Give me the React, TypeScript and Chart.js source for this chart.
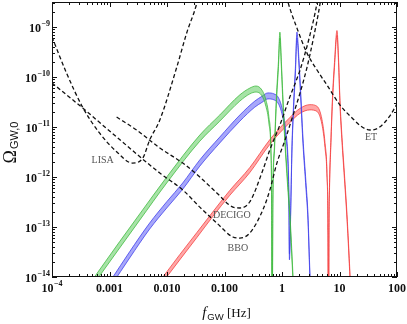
import React, { useEffect, useRef } from 'react';
import { Chart, registerables } from 'chart.js';

Chart.register(...registerables);

// ---------------- data ----------------
const X_MIN = 1e-4;
const X_MAX = 100;
const Y_MIN = 1e-14;
const Y_MAX = 3.162e-9;

const xTickValues = [1e-4, 1e-3, 0.01, 0.1, 1, 10, 100];
const xTickLabels = ['10^\u22124', '0.001', '0.010', '0.100', '1', '10', '100'];
const yTickValues = [1e-14, 1e-13, 1e-12, 1e-11, 1e-10, 1e-9];
const yTickLabels = ['10^\u221214', '10^\u221213', '10^\u221212', '10^\u221211', '10^\u221210', '10^\u22129'];

// sensitivity curves (dashed)
const lisaF = [1e-4, 1.79e-4, 3.4e-4, 6.7e-4, 1.33e-3, 2.5e-3, 3.8e-3, 5.0e-3, 7.5e-3, 0.0148, 0.022, 0.033, 0.037];
const lisaOmega = [6.3e-10, 1.2e-10, 2.5e-11, 7.6e-12, 3.2e-12, 1.9e-12, 2.4e-12, 5.5e-12, 1.38e-11, 1.58e-10, 7.6e-10, 3.0e-9, 5.5e-9];

const bboF = [1e-4, 3.4e-4, 1.33e-3, 7.5e-3, 0.0188, 0.0372, 0.0735, 0.14, 0.185, 0.276, 0.465, 0.615, 0.815, 1.13, 1.56, 2.06, 2.73, 3.47, 4.6, 4.95];
const bboOmega = [7.6e-11, 2.4e-11, 6.3e-12, 1.2e-12, 5.5e-13, 2.5e-13, 1.2e-13, 6.3e-14, 6.0e-14, 7.6e-14, 2.2e-13, 5.5e-13, 1.9e-12, 5.5e-12, 1.74e-11, 4.8e-11, 1.58e-10, 5.5e-10, 3.0e-9, 5.5e-9];

const decigoF = [1.33e-3, 2.96e-3, 7.5e-3, 0.0188, 0.0372, 0.0735, 0.14, 0.185, 0.276, 0.465, 0.615, 0.92, 1.37, 2.06, 3.06, 4.06, 4.4];
const decigoOmega = [1.58e-11, 8.7e-12, 3.8e-12, 1.9e-12, 1.0e-12, 4.8e-13, 2.5e-13, 2.4e-13, 3.2e-13, 1.38e-12, 3.5e-12, 1.1e-11, 4.0e-11, 1.38e-10, 6.9e-10, 3.0e-9, 5.5e-9];

const etF = [1.13, 1.27, 1.82, 2.72, 4.06, 6.06, 10.2, 17.2, 24.7, 34, 46.9, 62, 79, 100];
const etOmega = [5.5e-9, 3.16e-9, 9.5e-10, 3.0e-10, 1.38e-10, 6.9e-11, 2.75e-11, 1.45e-11, 1.0e-11, 8.7e-12, 9.5e-12, 1.26e-11, 1.82e-11, 2.9e-11];

// signal bands
const greenF = [4.88e-4, 1.5e-3, 3.35e-3, 9.9e-3, 0.0372, 0.0828, 0.185, 0.276, 0.351, 0.447, 0.524, 0.591, 0.641, 0.659, 0.672, 0.694, 0.737, 0.799, 0.866, 0.919, 0.976, 1.037, 1.123, 1.242, 1.373, 1.548, 1.612];
const greenLow = [6.3e-15, 3.8e-14, 1.37e-13, 7.6e-13, 5.2e-12, 1.31e-11, 3.3e-11, 4.6e-11, 5.0e-11, 4.2e-11, 2.6e-11, 1.2e-11, 3.0e-12, 3.0e-13, 1e-16, 3.0e-13, 3.0e-12, 3.0e-11, 1.5e-10, 6.0e-10, 1.5e-10, 3.0e-11, 4.8e-12, 7.6e-13, 1.37e-13, 8.7e-15, 3.0e-15];
const greenHigh = [8.3e-15, 5.1e-14, 1.82e-13, 1.0e-12, 6.9e-12, 1.74e-11, 4.4e-11, 6.0e-11, 6.6e-11, 5.5e-11, 3.5e-11, 1.6e-11, 4.0e-12, 4.0e-13, 1e-16, 4.0e-13, 4.0e-12, 4.0e-11, 2.0e-10, 7.9e-10, 2.0e-10, 4.0e-11, 6.3e-12, 1.0e-12, 1.82e-13, 1.15e-14, 4.0e-15];

const blueF = [1.088e-3, 2.24e-3, 4.99e-3, 9.9e-3, 0.01877, 0.0372, 0.0828, 0.185, 0.337, 0.447, 0.568, 0.723, 0.883, 1.037, 1.169, 1.267, 1.319, 1.346, 1.429, 1.488, 1.58, 1.712, 1.818, 1.97, 2.135, 2.312, 2.609, 2.827, 3.063, 3.188];
const blueLow = [6.9e-15, 2.4e-14, 9.1e-14, 2.4e-13, 5.7e-13, 1.65e-12, 4.8e-12, 1.31e-11, 2.5e-11, 3.1e-11, 3.65e-11, 3.5e-11, 2.8e-11, 1.51e-11, 6.0e-12, 1.9e-12, 3.0e-13, 2.2e-14, 3.0e-13, 3.0e-12, 1.9e-11, 1.2e-10, 6.0e-10, 1.74e-10, 3.0e-11, 4.8e-12, 6.0e-13, 1.37e-13, 8.7e-15, 3.0e-15];
const blueHigh = [9.1e-15, 3.2e-14, 1.2e-13, 3.2e-13, 7.6e-13, 2.2e-12, 6.3e-12, 1.74e-11, 3.3e-11, 4.1e-11, 4.8e-11, 4.6e-11, 3.7e-11, 2.0e-11, 7.9e-12, 2.5e-12, 4.0e-13, 2.9e-14, 4.0e-13, 4.0e-12, 2.5e-11, 1.6e-10, 7.9e-10, 2.3e-10, 4.0e-11, 6.3e-12, 7.9e-13, 1.82e-13, 1.15e-14, 4.0e-15];

const redF = [8.09e-3, 0.01665, 0.0329, 0.0625, 0.1237, 0.276, 0.615, 1.373, 2.05, 3.063, 4.055, 4.956, 5.59, 6.06, 6.3, 6.43, 6.56, 6.69, 7.11, 7.55, 8.18, 9.04, 9.61, 10.2, 11.06, 11.98, 13.51, 15.24, 15.86];
const redLow = [7.4e-15, 2.2e-14, 6.1e-14, 1.62e-13, 4.3e-13, 1.23e-12, 4.5e-12, 1.23e-11, 1.87e-11, 2.2e-11, 2.05e-11, 1.12e-11, 3.9e-12, 9.8e-13, 7.7e-14, 1e-16, 7.7e-14, 4.9e-13, 4.9e-12, 3.1e-11, 1.55e-10, 6.8e-10, 1.96e-10, 2.7e-11, 4.9e-12, 1.23e-12, 1.41e-13, 8.9e-15, 3.1e-15];
const redHigh = [9.3e-15, 2.8e-14, 7.7e-14, 2.0e-13, 5.4e-13, 1.55e-12, 5.6e-12, 1.55e-11, 2.35e-11, 2.8e-11, 2.6e-11, 1.41e-11, 4.9e-12, 1.23e-12, 9.7e-14, 1e-16, 9.7e-14, 6.2e-13, 6.2e-12, 3.9e-11, 1.95e-10, 8.5e-10, 2.5e-10, 3.4e-11, 6.2e-12, 1.55e-12, 1.77e-13, 1.12e-14, 3.9e-15];

// curve name labels
const curveNames = ['LISA', 'DECIGO', 'BBO', 'ET'];
const curveNameF = [7.6e-4, 0.134, 0.171, 35.4];
const curveNameOmega = [2.2e-12, 1.74e-13, 3.8e-14, 6.3e-12];

// ---------------- styling ----------------
const SERIF = '"Liberation Serif", "DejaVu Serif", serif';
const SANS = '"Liberation Sans", "DejaVu Sans", sans-serif';
const TICK_FONT = `bold 12px ${SERIF}`;
const SUP_FONT = `bold 8px ${SERIF}`;

const pts = (xs: number[], ys: number[]) => xs.map((x, i) => ({ x, y: ys[i] }));

const dashed = (label: string, xs: number[], ys: number[]) => ({
  label,
  data: pts(xs, ys),
  borderColor: '#111',
  borderWidth: 1.3,
  borderDash: [4, 2.6],
  pointRadius: 0,
  fill: false,
  cubicInterpolationMode: 'monotone',
});

const bandEdge = (label: string, xs: number[], ys: number[], edge: string, fillColor?: string) => ({
  label,
  data: pts(xs, ys),
  borderColor: edge,
  borderWidth: 0.9,
  pointRadius: 0,
  cubicInterpolationMode: 'monotone',
  fill: fillColor ? '-1' : false,
  backgroundColor: fillColor || 'transparent',
});

function drawSupLabel(ctx: CanvasRenderingContext2D, text: string, x: number, y: number, align: 'center' | 'right') {
  const [base, sup] = text.split('^');
  ctx.font = TICK_FONT;
  const wb = ctx.measureText(base).width;
  let ws = 0;
  if (sup) {
    ctx.font = SUP_FONT;
    ws = ctx.measureText(sup).width + 0.5;
  }
  const total = wb + ws;
  const sx = align === 'center' ? x - total / 2 : x - total;
  ctx.textAlign = 'left';
  ctx.textBaseline = 'middle';
  ctx.font = TICK_FONT;
  ctx.fillText(base, sx, y);
  if (sup) {
    ctx.font = SUP_FONT;
    ctx.fillText(sup, sx + wb + 0.5, y - 5);
  }
}

const framePlugin = {
  id: 'framePlugin',
  afterDraw(chart: any) {
    const { ctx, chartArea: a, scales } = chart;
    const xs = scales.x;
    const ys = scales.y;
    ctx.save();
    ctx.strokeStyle = '#111';
    ctx.lineWidth = 1;
    ctx.strokeRect(a.left + 0.5, a.top + 0.5, a.right - a.left - 1, a.bottom - a.top - 1);

    // ticks
    ctx.beginPath();
    for (let e = -4; e <= 2; e++) {
      for (let k = 1; k <= 9; k++) {
        const v = k * Math.pow(10, e);
        if (v < X_MIN * 0.999 || v > X_MAX * 1.001) continue;
        const px = Math.round(xs.getPixelForValue(v)) + 0.5;
        const len = k === 1 ? 5 : 3;
        ctx.moveTo(px, a.bottom);
        ctx.lineTo(px, a.bottom - len);
        ctx.moveTo(px, a.top);
        ctx.lineTo(px, a.top + len);
      }
    }
    for (let e = -14; e <= -9; e++) {
      for (let k = 1; k <= 9; k++) {
        const v = k * Math.pow(10, e);
        if (v < Y_MIN * 0.999 || v > Y_MAX) continue;
        const py = Math.round(ys.getPixelForValue(v)) + 0.5;
        const len = k === 1 ? 5 : 3;
        ctx.moveTo(a.left, py);
        ctx.lineTo(a.left + len, py);
        ctx.moveTo(a.right, py);
        ctx.lineTo(a.right - len, py);
      }
    }
    ctx.stroke();

    // tick labels
    ctx.fillStyle = '#111';
    xTickValues.forEach((v, i) => {
      drawSupLabel(ctx, xTickLabels[i], xs.getPixelForValue(v), a.bottom + 12, 'center');
    });
    yTickValues.forEach((v, i) => {
      drawSupLabel(ctx, yTickLabels[i], a.left - 2, ys.getPixelForValue(v) + 1.5, 'right');
    });

    // y title: Omega_{GW,0}
    ctx.save();
    ctx.translate(11, (a.top + a.bottom) / 2 + 3);
    ctx.rotate(-Math.PI / 2);
    ctx.font = `18px ${SERIF}`;
    const wO = ctx.measureText('\u03A9').width;
    ctx.font = `11px ${SANS}`;
    const wS = ctx.measureText('GW,0').width;
    const tot = wO + wS + 1;
    ctx.textAlign = 'left';
    ctx.textBaseline = 'middle';
    ctx.font = `18px ${SERIF}`;
    ctx.fillText('\u03A9', -tot / 2, 0);
    ctx.font = `11px ${SANS}`;
    ctx.fillText('GW,0', -tot / 2 + wO + 1, 4);
    ctx.restore();

    // x title: f_GW [Hz]
    ctx.textAlign = 'left';
    ctx.textBaseline = 'alphabetic';
    ctx.font = `italic 15px ${SERIF}`;
    const wf = ctx.measureText('f').width;
    ctx.font = `9.5px ${SANS}`;
    const wg = ctx.measureText('GW').width;
    ctx.font = `13px ${SERIF}`;
    const wh = ctx.measureText(' [Hz]').width;
    const tw = wf + 1 + wg + wh;
    let tx = (a.left + a.right) / 2 + 2 - tw / 2;
    const ty = 317;
    ctx.font = `italic 15px ${SERIF}`;
    ctx.fillText('f', tx, ty);
    tx += wf + 1;
    ctx.font = `9.5px ${SANS}`;
    ctx.fillText('GW', tx, ty + 3);
    tx += wg;
    ctx.font = `13px ${SERIF}`;
    ctx.fillText(' [Hz]', tx, ty);

    // curve names
    ctx.fillStyle = '#555';
    ctx.font = `10px ${SERIF}`;
    ctx.textAlign = 'center';
    ctx.textBaseline = 'middle';
    curveNames.forEach((n, i) => {
      ctx.fillText(n, xs.getPixelForValue(curveNameF[i]), ys.getPixelForValue(curveNameOmega[i]));
    });
    ctx.restore();
  },
};

export default function App() {
  const ref = useRef<HTMLCanvasElement | null>(null);

  useEffect(() => {
    document.body.style.margin = '0';
    const canvas = ref.current;
    if (!canvas) return;
    const chart = new Chart(canvas, {
      type: 'line',
      data: {
        datasets: [
          dashed('LISA', lisaF, lisaOmega),
          dashed('DECIGO', decigoF, decigoOmega),
          dashed('BBO', bboF, bboOmega),
          dashed('ET', etF, etOmega),
          bandEdge('green low', greenF, greenLow, 'rgba(60,185,60,0.85)'),
          bandEdge('green high', greenF, greenHigh, 'rgba(60,185,60,0.85)', 'rgba(80,200,80,0.5)'),
          bandEdge('blue low', blueF, blueLow, 'rgba(60,60,235,0.85)'),
          bandEdge('blue high', blueF, blueHigh, 'rgba(60,60,235,0.85)', 'rgba(80,80,245,0.5)'),
          bandEdge('red low', redF, redLow, 'rgba(245,60,60,0.85)'),
          bandEdge('red high', redF, redHigh, 'rgba(245,60,60,0.85)', 'rgba(255,80,80,0.5)'),
        ] as any,
      },
      options: {
        responsive: false,
        animation: false,
        devicePixelRatio: 1,
        layout: { padding: { top: 2, right: 10, left: 0, bottom: 0 } },
        plugins: {
          legend: { display: false },
          tooltip: { enabled: false },
        },
        scales: {
          x: {
            type: 'logarithmic',
            min: X_MIN,
            max: X_MAX,
            grid: { display: false },
            border: { display: false },
            ticks: { display: false },
            afterFit: (s: any) => {
              s.height = 47;
              s.paddingLeft = 0;
              s.paddingRight = 0;
            },
          },
          y: {
            type: 'logarithmic',
            min: Y_MIN,
            max: Y_MAX,
            grid: { display: false },
            border: { display: false },
            ticks: { display: false },
            afterFit: (s: any) => {
              s.width = 52;
              s.paddingTop = 0;
              s.paddingBottom = 0;
            },
          },
        },
      } as any,
      plugins: [framePlugin],
    });
    return () => chart.destroy();
  }, []);

  return (
    <div style={{ position: 'fixed', left: 0, top: 0, width: 407, height: 324, background: '#fff' }}>
      <canvas ref={ref} width={407} height={324} />
    </div>
  );
}
